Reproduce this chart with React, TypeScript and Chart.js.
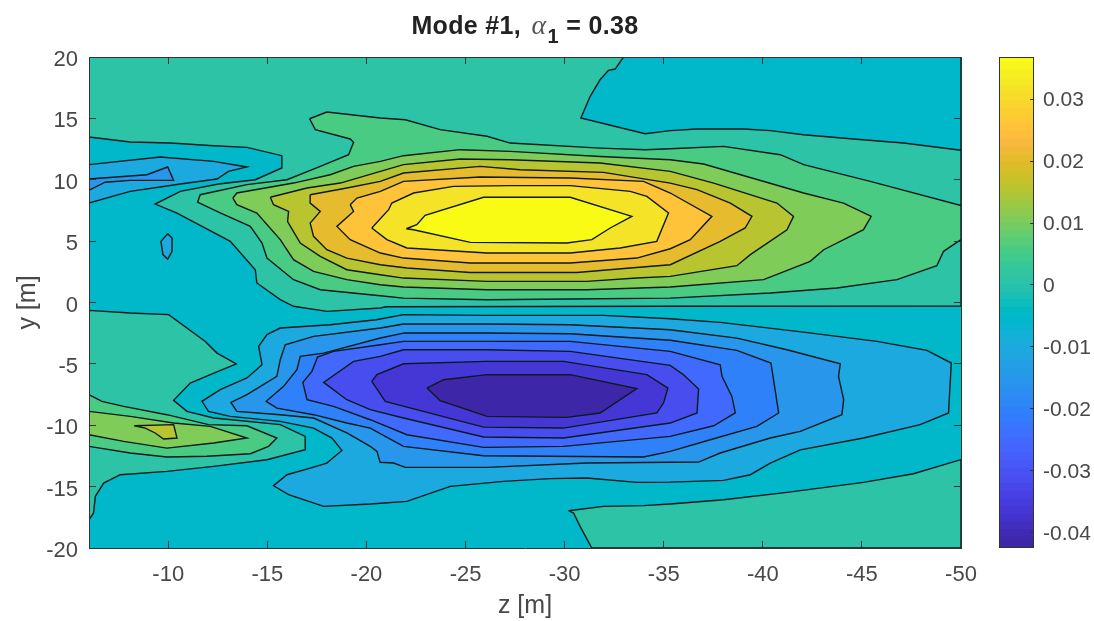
import React, { useEffect, useRef } from "react";
import { Chart, registerables } from "chart.js";

Chart.register(...registerables);

type Pt = [number, number];

const zTicks = [-10, -15, -20, -25, -30, -35, -40, -45, -50];
const yTicks = [20, 15, 10, 5, 0, -5, -10, -15, -20];
const colorbarTicks = [0.03, 0.02, 0.01, 0, -0.01, -0.02, -0.03, -0.04];
const zRange: Pt = [-50, -6];
const yRange: Pt = [-20, 20];
const colorRange: Pt = [-0.0423, 0.0368];

const parula = [
  "#3e26a8","#402ab4","#422ebf","#4332cb","#4537d5","#463cde","#4741e5","#4747eb","#484df0","#4852f4","#4758f8","#465efb","#4563fd","#4269fe","#3e6fff","#3875fe","#327bfc","#2f81fa","#2d87f7","#2d8cf3","#2b91ef","#2796eb","#259be7","#23a0e5","#20a5e2","#1ca9df","#18addb","#12b1d6","#08b5d0","#01b8ca","#02bac3","#0bbdbc","#19bfb5","#24c1ae","#2cc3a7","#31c69f","#37c897","#3fca8e","#4acb84","#57cc7a","#64cd6f","#72cc64","#80cc59","#8fca4e","#9dc942","#abc739","#b9c431","#c5c22a","#d1bf27","#dcbd29","#e6bb2d","#f0ba36","#f8ba3d","#febe3c","#fec338","#fec934","#fccf30","#f9d52d","#f7dc2a","#f5e327","#f5e924","#f6ef20","#f7f51b","#f9fb15",
];

const bandBase = "#01b8ca";
const bandTeal = "#2cc3a7";
const bandC = "#1ca9df";
const bandD = "#2796eb";
const bandE = "#2f81fa";
const bandF = "#4269fe";
const bandG = "#484df0";
const bandG2 = "#4537d5";
const bandH = "#3e26a8";
const bandI = "#4acb84";
const bandJ = "#80cc59";
const bandK = "#b9c431";
const bandL = "#e6bb2d";
const bandM = "#fec338";
const bandN = "#f5e327";
const bandO = "#f9fb15";

const fullField: Pt[] = [[-6,20],[-50,20],[-50,-20],[-6,-20]];

const tealMain: Pt[] = [[-6,20],[-50,20],[-50,-0.28],[-35.33,-0.3],[-21.0,-0.35],[-20.7,-0.45],[-18.01,-0.72],[-16.32,-0.31],[-15.65,0.23],[-14.47,1.59],[-14.39,2.67],[-13.13,4.98],[-10.44,7.29],[-9.34,8.02],[-10.61,9.05],[-12.54,9.65],[-14.39,10.0],[-15.73,10.96],[-15.73,11.96],[-13.97,12.64],[-12.29,12.77],[-10.1,12.99],[-8.08,13.07],[-6,13.48]];
const cyanTopRight: Pt[] = [[-32.97,20],[-32.55,19.02],[-32.21,18.91],[-31.79,18.15],[-31.29,16.8],[-30.82,15.03],[-34.06,13.75],[-35.33,14.0],[-36.68,14.13],[-39.03,14.13],[-40.38,14.0],[-42.06,13.67],[-44.58,13.32],[-47.1,12.99],[-50,12.4],[-50,20]];
const lensUpper: Pt[] = [[-6,11.23],[-9.6,11.85],[-12.29,11.5],[-13.97,11.04],[-13.04,10.68],[-12.46,10.06],[-10.61,9.65],[-8.08,9.05],[-6,8.1]];
const sliverUpper: Pt[] = [[-6,10.06],[-8.92,10.41],[-9.97,11.04],[-10.27,9.95],[-8.08,9.95],[-6.82,9.8],[-6,9.14]];
const ovalUpper: Pt[] = [[-9.97,5.6],[-9.63,4.98],[-9.73,3.9],[-9.97,3.54],[-10.19,4.17],[-10.19,5.25]];

const lobeI: Pt[] = [[-17.13,14.97],[-18.0,15.52],[-20.7,15.03],[-21.96,14.89],[-23.72,14.08],[-26.08,13.54],[-27.25,12.99],[-31.79,12.58],[-34.06,12.45],[-35.33,12.53],[-38.02,12.72],[-40.88,12.04],[-42.06,11.23],[-45.42,9.87],[-50,7.9],[-50,5.12],[-49.12,4.17],[-48.78,3.0],[-46.77,1.86],[-43.74,1.18],[-40.38,0.77],[-35.33,0.36],[-30.28,0.28],[-26.08,0.23],[-21.87,0.36],[-20.7,0.55],[-17.67,1.04],[-16.32,1.86],[-14.98,3.62],[-14.73,4.84],[-14.14,6.2],[-12.62,7.3],[-11.48,8.17],[-11.61,8.78],[-13.97,9.6],[-15.99,10.0],[-17.67,11.09],[-19.1,12.04],[-19.35,13.05],[-19.18,13.32],[-17.42,14.08]];
const lobeJ: Pt[] = [[-13.26,8.51],[-13.46,8.92],[-16.32,9.73],[-18.17,10.41],[-19.35,11.09],[-20.7,11.5],[-21.87,11.96],[-24.73,12.45],[-27.25,12.31],[-31.79,11.9],[-35.33,11.63],[-37.01,11.28],[-42.06,8.92],[-44.07,8.1],[-45.47,7.02],[-45.08,5.93],[-43.07,4.3],[-42.39,3.35],[-40.04,1.86],[-35.33,1.26],[-31.12,1.04],[-26.08,1.04],[-21.87,1.26],[-20.7,1.45],[-19.01,1.86],[-17.33,2.54],[-16.32,3.49],[-15.65,5.12],[-14.47,7.29],[-13.46,7.97]];
const lobeK: Pt[] = [[-15.15,8.57],[-17,9.33],[-18.68,9.73],[-20.7,10.68],[-21.87,11.23],[-24.73,11.69],[-27.25,11.63],[-31.79,11.36],[-35.33,10.68],[-37.52,9.73],[-40.71,8.1],[-41.55,7.02],[-41.22,5.93],[-39.37,3.9],[-38.69,3.0],[-35.33,2.13],[-33.64,2.0],[-31.12,1.72],[-26.08,1.72],[-21.87,1.99],[-20.7,2.26],[-19.01,2.67],[-17.67,3.76],[-16.66,4.84],[-16.02,6.6],[-16.07,7.42],[-15.31,7.97]];
const lobeL: Pt[] = [[-17.16,8.78],[-19.01,9.33],[-20.7,9.87],[-21.87,10.55],[-25.74,11.09],[-27.76,10.82],[-31.96,10.6],[-35.33,9.73],[-36.68,9.19],[-38.36,8.1],[-39.45,7.02],[-39.11,6.07],[-37.85,4.98],[-35.33,3.08],[-33.31,2.81],[-30.62,2.45],[-25.24,2.45],[-22.04,2.81],[-20.7,3.08],[-19.01,3.62],[-18.0,4.3],[-17.33,5.39],[-17.16,6.47],[-17.67,7.42],[-17.16,8.1]];
const lobeM: Pt[] = [[-19.18,7.97],[-19.52,8.51],[-20.7,9.05],[-21.87,9.87],[-25.74,10.22],[-30.28,10.14],[-33.98,9.87],[-35.33,8.92],[-37.43,7.02],[-36.34,5.12],[-35.33,4.38],[-33.64,3.62],[-30.28,3.22],[-25.24,3.22],[-21.87,3.62],[-20.7,4.03],[-19.18,5.12],[-18.51,6.2],[-19.35,7.42]];
const lobeN: Pt[] = [[-20.27,6.07],[-21.12,7.56],[-21.28,8.1],[-22.38,8.92],[-24.39,9.46],[-27.25,9.52],[-30.28,9.52],[-33.31,9.05],[-34.15,8.65],[-35.24,7.3],[-34.65,4.98],[-32.8,4.44],[-30.28,4.03],[-26.08,4.03],[-22.04,4.44],[-21.03,5.12]];
const lobeO: Pt[] = [[-22.01,6.01],[-22.54,6.34],[-22.96,7.1],[-25.91,8.57],[-30.28,8.57],[-33.39,7.02],[-32.3,6.07],[-31.37,5.12],[-30.11,4.85],[-25.24,4.9],[-22.38,5.93]];

const tealLowerLeft: Pt[] = [[-6,-0.64],[-8.08,-0.86],[-10.02,-0.99],[-11.87,-3.17],[-12.46,-4.12],[-13.43,-5.01],[-12.12,-5.88],[-11.11,-6.56],[-10.27,-7.97],[-10.94,-8.87],[-12.29,-9.41],[-15.65,-9.95],[-16.91,-10.91],[-16.91,-12],[-14.98,-12.81],[-12.29,-13.35],[-9.93,-13.76],[-7.58,-14.03],[-6.74,-14.71],[-6.32,-15.79],[-6.23,-17.15],[-6,-17.7]];
const islandI: Pt[] = [[-6,-7.51],[-6.65,-8.05],[-7.75,-8.46],[-9.93,-9.14],[-12.03,-9.95],[-13.97,-10.04],[-15.48,-11.04],[-15.06,-11.72],[-14.14,-12.32],[-11.95,-12.53],[-9.93,-12.59],[-8.08,-12.26],[-6,-11.72]];
const islandJ: Pt[] = [[-6,-8.87],[-8.08,-9.28],[-10.27,-9.82],[-12.12,-10.09],[-13.97,-11.04],[-12.29,-11.45],[-9.93,-11.86],[-7.75,-11.31],[-6,-10.77]];
const islandK: Pt[] = [[-8.28,-10.04],[-10.27,-9.95],[-10.44,-11.04],[-9.76,-11.12],[-9.34,-10.63],[-8.84,-10.23]];

const troughC: Pt[] = [[-21.87,-0.99],[-26.08,-1.05],[-31.96,-1.05],[-35.33,-1.32],[-37.85,-1.62],[-42.06,-2.41],[-45.76,-3.17],[-48.28,-3.9],[-49.51,-4.93],[-49.37,-9.0],[-47.94,-9.95],[-45.08,-11.04],[-41.89,-12.0],[-40.38,-13.08],[-39.37,-14.03],[-38.02,-14.49],[-35.33,-14.63],[-33.64,-14.65],[-31.12,-14.3],[-29.27,-14.35],[-26.92,-14.57],[-24.23,-14.98],[-22.04,-16.2],[-20.19,-16.42],[-17.84,-16.61],[-16.07,-15.66],[-15.31,-14.93],[-15.99,-14.03],[-17.16,-13.49],[-18.0,-13.08],[-18.76,-12.05],[-18.26,-11.04],[-17.33,-10.23],[-15.65,-9.68],[-13.13,-9.28],[-12.03,-8.87],[-11.7,-8.05],[-12.62,-7.1],[-13.97,-6.15],[-14.73,-5.07],[-14.56,-3.57],[-14.98,-2.62],[-15.65,-2.08],[-18.17,-1.81],[-20.5,-1.4]];
const troughD: Pt[] = [[-21.87,-1.75],[-26.08,-1.75],[-30.28,-1.81],[-35.33,-2.22],[-38.69,-2.9],[-41.22,-3.85],[-43.91,-5.0],[-43.82,-6.02],[-44.08,-7.92],[-43.99,-9.14],[-41.89,-10.5],[-40.38,-11.04],[-37.85,-12.26],[-36.76,-13.0],[-35.33,-13.02],[-31.12,-13.08],[-26.08,-13.43],[-21.96,-13.43],[-21.37,-13.08],[-20.69,-13.02],[-20.53,-12.13],[-20.19,-11.72],[-19.01,-10.63],[-17.33,-9.41],[-15.65,-9.14],[-13.46,-8.87],[-13.16,-8.14],[-13.97,-7.51],[-15.48,-6.02],[-15.65,-4.66],[-15.9,-3.44],[-17.33,-2.76],[-20.7,-2.08]];
const troughE: Pt[] = [[-21.87,-2.49],[-26.08,-2.49],[-30.28,-2.54],[-35.33,-3.08],[-38.69,-3.9],[-40.41,-4.93],[-40.8,-9.0],[-39.7,-10.09],[-37.35,-11.18],[-35.33,-12.13],[-33.98,-12.59],[-25.91,-12.48],[-21.87,-11.72],[-20.19,-10.23],[-19.01,-9.82],[-17.33,-9.14],[-15.48,-8.6],[-14.94,-8.05],[-15.82,-6.83],[-16.49,-5.47],[-16.66,-4.39],[-17.84,-4.12],[-20.7,-2.89]];
const troughF: Pt[] = [[-21.87,-3.17],[-26.08,-3.17],[-30.28,-3.17],[-35.33,-3.98],[-37.85,-5.07],[-37.94,-6.02],[-38.44,-7.65],[-38.61,-9.0],[-37.52,-10.04],[-35.33,-10.91],[-29.94,-11.72],[-25.91,-11.8],[-22.04,-10.77],[-20.19,-9.55],[-18.34,-8.46],[-17.0,-7.92],[-16.79,-6.51],[-17.25,-5.61],[-17.53,-4.44],[-18.34,-3.98],[-20.7,-3.44]];
const troughG: Pt[] = [[-21.87,-3.85],[-26.08,-3.85],[-30.28,-3.98],[-35.33,-5.12],[-36.0,-5.88],[-36.76,-7.05],[-36.68,-9.0],[-35.33,-9.82],[-29.94,-11.04],[-25.91,-10.96],[-21.87,-9.41],[-20.19,-8.73],[-19.01,-7.92],[-17.84,-6.51],[-19.35,-4.8],[-20.7,-4.39]];
const troughG2: Pt[] = [[-20.27,-6.43],[-20.53,-5.88],[-21.87,-4.99],[-26.08,-4.8],[-29.94,-4.8],[-34.15,-5.88],[-35.21,-6.97],[-34.99,-8.19],[-34.65,-9.0],[-29.94,-10.23],[-25.91,-10.15],[-20.95,-8.05]];
const troughH: Pt[] = [[-23.05,-6.97],[-23.89,-6.29],[-26.08,-5.88],[-30.28,-5.88],[-33.64,-7.02],[-31.79,-9.0],[-30.11,-9.36],[-26.08,-9.28],[-25.07,-8.73],[-23.72,-8.0]];
const tealLowerRight: Pt[] = [[-30.2,-16.96],[-31.96,-16.61],[-33.98,-16.55],[-35.33,-16.42],[-38.02,-16.07],[-41.22,-15.47],[-45.08,-14.65],[-47.6,-13.95],[-50,-12.8],[-50,-20],[-31.37,-20],[-30.78,-18.24],[-30.45,-17.15]];

const layers: { pts: Pt[]; color: string; line?: boolean }[] = [
  { pts: fullField, color: bandBase, line: false },
  { pts: tealMain, color: bandTeal },
  { pts: cyanTopRight, color: bandBase },
  { pts: lensUpper, color: bandC },
  { pts: sliverUpper, color: bandD },
  { pts: ovalUpper, color: bandC },
  { pts: lobeI, color: bandI },
  { pts: lobeJ, color: bandJ },
  { pts: lobeK, color: bandK },
  { pts: lobeL, color: bandL },
  { pts: lobeM, color: bandM },
  { pts: lobeN, color: bandN },
  { pts: lobeO, color: bandO },
  { pts: tealLowerLeft, color: bandTeal },
  { pts: islandI, color: bandI },
  { pts: islandJ, color: bandJ },
  { pts: islandK, color: bandK },
  { pts: troughC, color: bandC },
  { pts: troughD, color: bandD },
  { pts: troughE, color: bandE },
  { pts: troughF, color: bandF },
  { pts: troughG, color: bandG },
  { pts: troughG2, color: bandG2 },
  { pts: troughH, color: bandH },
  { pts: tealLowerRight, color: bandTeal },
];

const FONT = "'Liberation Sans', Arial, sans-serif";
const INK = "#484848";
const FRAME = "#333333";

function fixedTicks(values: number[]) {
  return (scale: any) => {
    scale.ticks = values.map((value) => ({ value }));
  };
}

export default function App() {
  const mainRef = useRef<HTMLCanvasElement>(null);
  const barRef = useRef<HTMLCanvasElement>(null);

  useEffect(() => {
    const frameAxis = {
      border: { display: true, color: FRAME, width: 1, z: 2 },
      grid: { drawOnChartArea: false, drawTicks: true, tickLength: -7, color: FRAME, z: 2 },
    };
    const main = new Chart(mainRef.current!, {
      type: "scatter",
      data: {
        datasets: layers.map((layer, i) => ({
          data: [...layer.pts, layer.pts[0]].map(([x, y]) => ({ x, y })),
          showLine: true,
          pointRadius: 0,
          borderWidth: layer.line === false ? 0 : 1.4,
          borderColor: "#0c1a1a",
          backgroundColor: layer.color,
          fill: "shape",
          tension: 0,
          order: layers.length - i,
        })),
      } as any,
      options: {
        animation: false,
        responsive: false,
        events: [],
        layout: { padding: { left: 0, right: 133, top: 57, bottom: 0 } },
        plugins: { legend: { display: false }, tooltip: { enabled: false }, title: { display: false } },
        scales: {
          x: {
            ...frameAxis,
            type: "linear",
            position: "bottom",
            reverse: true,
            min: zRange[0],
            max: zRange[1],
            afterBuildTicks: fixedTicks(zTicks),
            afterFit: (s: any) => { s.height = 73; },
            ticks: { autoSkip: false, maxRotation: 0, padding: 21, color: INK, font: { family: FONT, size: 22 } },
            title: { display: true, text: "z [m]", color: INK, font: { family: FONT, size: 25 }, padding: { top: 0, bottom: 0 } },
          },
          y: {
            ...frameAxis,
            type: "linear",
            position: "left",
            min: yRange[0],
            max: yRange[1],
            afterBuildTicks: fixedTicks(yTicks),
            afterFit: (s: any) => { s.width = 89; },
            ticks: { autoSkip: false, padding: 18, labelOffset: 3, color: INK, font: { family: FONT, size: 22 } },
            title: { display: true, text: "y [m]", color: INK, font: { family: FONT, size: 25 }, padding: { top: 13, bottom: 0 } },
          },
          x2: {
            ...frameAxis,
            type: "linear",
            position: "top",
            reverse: true,
            min: zRange[0],
            max: zRange[1],
            afterBuildTicks: fixedTicks(zTicks),
            afterFit: (s: any) => { s.height = 0; },
            ticks: { display: false },
          },
          y2: {
            ...frameAxis,
            type: "linear",
            position: "right",
            min: yRange[0],
            max: yRange[1],
            afterBuildTicks: fixedTicks(yTicks),
            afterFit: (s: any) => { s.width = 0; },
            ticks: { display: false },
          },
        },
      } as any,
    });

    const step = (colorRange[1] - colorRange[0]) / parula.length;
    const plainEdge = {
      display: true,
      border: { display: true, color: FRAME, width: 1, z: 2 },
      grid: { display: false, drawTicks: false },
      ticks: { display: false },
    };
    const bar = new Chart(barRef.current!, {
      type: "bar",
      data: {
        labels: [""],
        datasets: parula.map((color, i) => ({
          data: [[colorRange[0] + i * step, colorRange[0] + (i + 1.3) * step]],
          backgroundColor: color,
          borderWidth: 0,
          grouped: false,
          barPercentage: 1,
          categoryPercentage: 1,
          order: i,
        })),
      } as any,
      options: {
        animation: false,
        responsive: false,
        events: [],
        layout: { padding: { left: 0, right: 0, top: 57, bottom: 74 } },
        plugins: { legend: { display: false }, tooltip: { enabled: false } },
        scales: {
          x: { ...plainEdge, position: "bottom", afterFit: (s: any) => { s.height = 0; } },
          xTop: { ...plainEdge, type: "category", labels: [""], position: "top", afterFit: (s: any) => { s.height = 0; } },
          yLeft: { ...plainEdge, type: "linear", min: colorRange[0], max: colorRange[1], position: "left", afterFit: (s: any) => { s.width = 39; } },
          y: {
            type: "linear",
            position: "right",
            min: colorRange[0],
            max: colorRange[1],
            afterBuildTicks: fixedTicks(colorbarTicks),
            afterFit: (s: any) => { s.width = 61; },
            border: { display: true, color: FRAME, width: 1, z: 2 },
            grid: { drawOnChartArea: false, drawTicks: true, tickLength: -3, color: FRAME, z: 2 },
            ticks: {
              autoSkip: false,
              padding: 13,
              labelOffset: 1,
              color: INK,
              font: { family: FONT, size: 21 },
              callback: (v: any) => String(v),
            },
          },
        },
      } as any,
    });
    return () => {
      main.destroy();
      bar.destroy();
    };
  }, []);

  return (
    <div style={{ position: "fixed", left: 0, top: 0, width: 1094, height: 621, background: "#fff", overflow: "hidden", filter: "blur(0.5px)" }}>
      <canvas ref={mainRef} width={1094} height={621} style={{ position: "absolute", left: 0, top: 0 }} />
      <canvas ref={barRef} width={134} height={621} style={{ position: "absolute", left: 960, top: 0 }} />
      <div
        style={{
          position: "absolute",
          left: 0,
          width: 1050,
          top: 11,
          textAlign: "center",
          fontFamily: FONT,
          fontWeight: 700,
          fontSize: 25,
          lineHeight: "28px",
          letterSpacing: 0.35,
          color: "#222",
          whiteSpace: "nowrap",
        }}
      >
        Mode #1,{" "}
        <span style={{ fontFamily: "'Liberation Serif', serif", fontStyle: "italic", fontWeight: 400, color: "#555", fontSize: 28, marginLeft: 3 }}>α</span>
        <span style={{ fontSize: 20, position: "relative", top: 9, marginLeft: 1 }}>1</span> = 0.38
      </div>
    </div>
  );
}
